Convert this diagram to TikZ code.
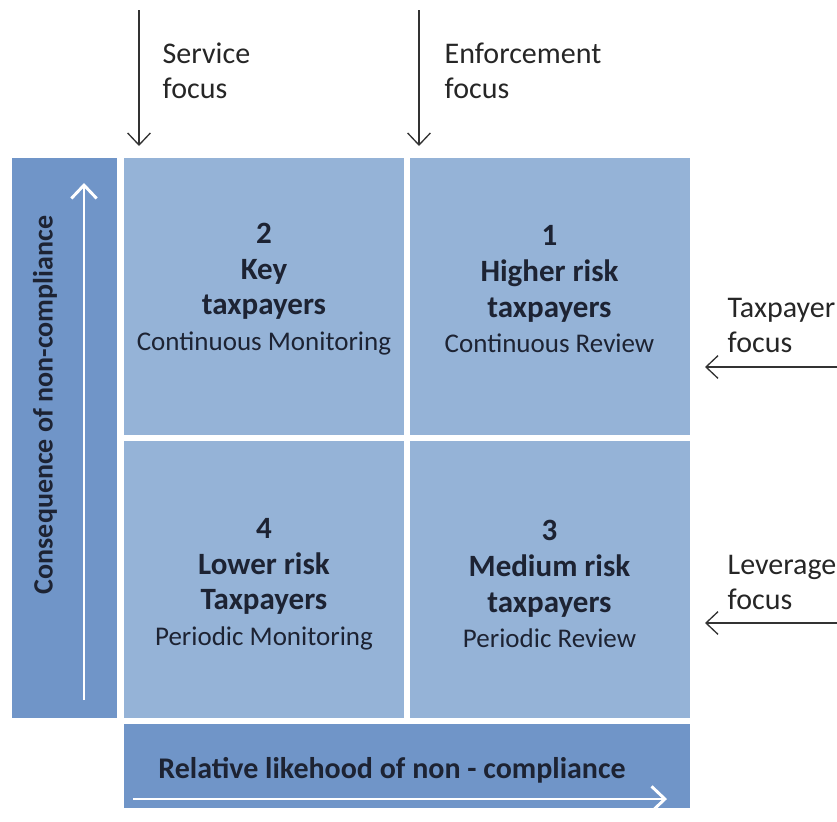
\documentclass[tikz,border=0pt]{standalone}
\usepackage{fontspec}
\setmainfont{Carlito}
\usetikzlibrary{arrows.meta}

\definecolor{quadblue}{HTML}{95B3D7}
\definecolor{barblue}{HTML}{7095C8}
\definecolor{inktext}{HTML}{1D2333}

\begin{document}
\begin{tikzpicture}[x=0.75pt,y=-0.75pt,
    quad/.style={fill=quadblue,minimum width=210pt,minimum height=207.75pt},
    quadtext/.style={align=center,text=inktext,font=\fontsize{23.25}{26.8}\selectfont\bfseries},
    bar/.style={fill=barblue,inner sep=0pt},
    bartext/.style={text=inktext,font=\fontsize{21}{25}\selectfont\bfseries},
    focus/.style={align=left,anchor=west,text=black!85,font=\fontsize{22.5}{26.25}\selectfont},
    focusarrow/.style={-{Straight Barb[length=9pt,width=17pt]},line width=1pt,black!80},
    axisarrow/.style={-{Straight Barb[length=10pt,width=19pt]},line width=2.2pt,white}]
    \useasboundingbox (0,0) rectangle (837,821);
    \node[quad] (q2) at (264,296.5) {};
    \node[quad] (q1) at (549.5,296.5) {};
    \node[quad] (q4) at (264,579.5) {};
    \node[quad] (q3) at (549.5,579.5) {};
    \node[quadtext] (q2 text) at ([yshift=5.5pt]q2.center) {2\\Key\\taxpayers\\{\mdseries\fontsize{20.25}{26}\selectfont Continuous Monitoring}};
    \node[quadtext] (q1 text) at ([yshift=5.5pt]q1.center) {1\\Higher risk\\taxpayers\\{\mdseries\fontsize{20.25}{26}\selectfont Continuous Review}};
    \node[quadtext] (q4 text) at ([yshift=-3.5pt]q4.center) {4\\Lower risk\\Taxpayers\\{\mdseries\fontsize{20.25}{26}\selectfont Periodic Monitoring}};
    \node[quadtext] (q3 text) at ([yshift=-3.5pt]q3.center) {3\\Medium risk\\taxpayers\\{\mdseries\fontsize{20.25}{26}\selectfont Periodic Review}};
    \node[bar,minimum width=78.75pt,minimum height=420pt] (lbar) at (64.5,438) {};
    \node[bartext,rotate=90] (ltext) at (45,405) {Consequence of non-compliance};
    \node[bar,minimum width=424.5pt,minimum height=63pt] (bbar) at (407,766) {};
    \node[bartext,font=\fontsize{22.5}{26}\selectfont\bfseries] (btext) at (392,770) {Relative likehood of non - compliance};
    \coordinate (up from) at (84,700);
    \coordinate (up to) at (84,183);
    \coordinate (right from) at (133,799);
    \coordinate (right to) at (667,799);
    \draw[axisarrow] (up from) -- (up to);
    \draw[axisarrow] (right from) -- (right to);
    \node[focus] (svc) at (158,70.5) {Service\\focus};
    \node[focus] (enf) at (440,70.5) {Enforcement\\focus};
    \node[focus] (tax) at (723,325.5) {Taxpayer\\focus};
    \node[focus] (lev) at (723,582.5) {Leverage\\focus};
    \coordinate (svc from) at (139,10);
    \coordinate (svc to) at (139,146);
    \coordinate (enf from) at (419,10);
    \coordinate (enf to) at (419,146);
    \coordinate (tax from) at (837,367);
    \coordinate (tax to) at (705,367);
    \coordinate (lev from) at (837,623);
    \coordinate (lev to) at (705,623);
    \draw[focusarrow] (svc from) -- (svc to);
    \draw[focusarrow] (enf from) -- (enf to);
    \draw[focusarrow] (tax from) -- (tax to);
    \draw[focusarrow] (lev from) -- (lev to);
\end{tikzpicture}
\end{document}
